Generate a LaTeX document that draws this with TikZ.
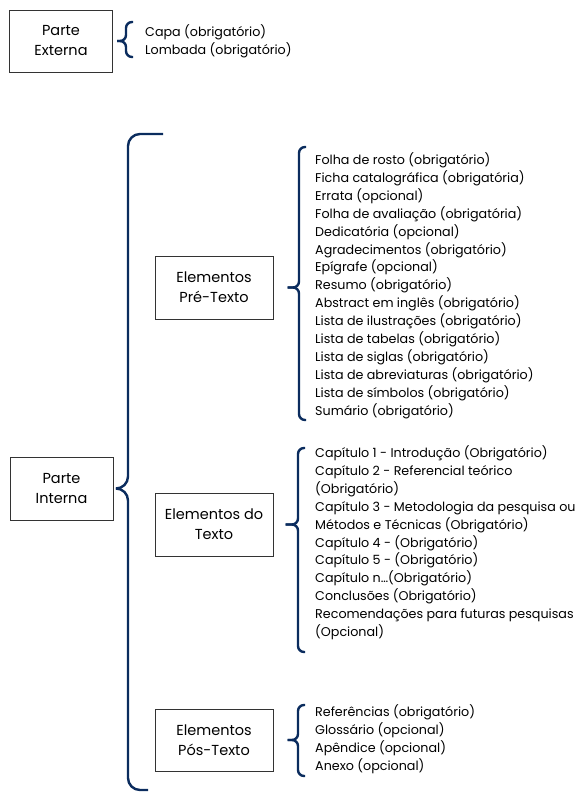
\documentclass[tikz,border=0pt]{standalone}
\usepackage{fontspec}
\setmainfont{Poppins}
\usetikzlibrary{calc}
\definecolor{azul}{HTML}{0B2C5E}

\begin{document}
\begin{tikzpicture}[x=1pt, y=-1pt,
      caixa/.style = {draw=black!80, line width=1pt, align=center,
        minimum width=118pt, minimum height=63pt,
        font=\fontsize{14.5}{20}\selectfont},
      lista/.style = {anchor=north west, align=left, inner sep=0pt,
        font=\fontsize{12.7}{17.9}\selectfont},
      chave/.style = {draw=azul, line width=2.4pt, rounded corners=#1},
      chave/.default = 6pt]
  \useasboundingbox (0,0) rectangle (576,793);

  % caixas
  \node[caixa, minimum width=103pt, minimum height=62pt] (ext) at (61,41) {Parte\\Externa};
  \node[caixa, minimum width=103pt] (int) at (61.5,488.5) {Parte\\Interna};
  \node[caixa] (pre) at (214,287.5) {Elementos\\Pré-Texto};
  \node[caixa] (txt) at (214,524.5) {Elementos do\\Texto};
  \node[caixa, minimum height=62pt] (pos) at (214,740) {Elementos\\Pós-Texto};

  % listas
  \node[lista] (ext-l) at (145,24.5) {Capa (obrigatório)\\Lombada (obrigatório)};
  \node[lista] (pre-l) at (315,152.5) {Folha de rosto (obrigatório)\\
    Ficha catalográfica (obrigatória)\\Errata (opcional)\\
    Folha de avaliação (obrigatória)\\Dedicatória (opcional)\\
    Agradecimentos (obrigatório)\\Epígrafe (opcional)\\Resumo (obrigatório)\\
    Abstract em inglês (obrigatório)\\Lista de ilustrações (obrigatório)\\
    Lista de tabelas (obrigatório)\\Lista de siglas (obrigatório)\\
    Lista de abreviaturas (obrigatório)\\Lista de símbolos (obrigatório)\\
    Sumário (obrigatório)};
  \node[lista] (txt-l) at (315,445.5) {Capítulo 1 - Introdução (Obrigatório)\\
    Capítulo 2 - Referencial teórico\\(Obrigatório)\\
    Capítulo 3 - Metodologia da pesquisa ou\\
    Métodos e Técnicas (Obrigatório)\\Capítulo 4 - (Obrigatório)\\
    Capítulo 5 - (Obrigatório)\\Capítulo n…(Obrigatório)\\
    Conclusões (Obrigatório)\\Recomendações para futuras pesquisas\\(Opcional)};
  \node[lista] (pos-l) at (315,704.5) {Referências (obrigatório)\\Glossário (opcional)\\
    Apêndice (opcional)\\Anexo (opcional)};

  % chaves
  \coordinate (ext-t) at (126,22);  \coordinate (ext-b) at (126,57);
  \coordinate (pre-t) at (299,147); \coordinate (pre-b) at (299,420);
  \coordinate (txt-t) at (298,448); \coordinate (txt-b) at (298,652);
  \coordinate (pos-t) at (298,705); \coordinate (pos-b) at (298,776);
  \foreach \c/\dx in {ext/4, pre/14, txt/12, pos/14} {
    \draw[chave] ([xshift=7pt]\c-t) -- (\c-t) -- (\c-t |- \c.east) -- ([xshift=\dx pt]\c.east);
    \draw[chave] ([xshift=\dx pt]\c.east) -- (\c-b |- \c.east) -- (\c-b) -- ([xshift=7pt]\c-b);
  }
  \coordinate (int-t) at (128,134); \coordinate (int-b) at (128,790);
  \draw[chave=12pt] ([xshift=35pt]int-t) -- (int-t) -- (int-t |- int.east) -- ([xshift=4pt]int.east);
  \draw[chave=12pt] ([xshift=4pt]int.east) -- (int-b |- int.east) -- (int-b) -- ([xshift=20pt]int-b);
\end{tikzpicture}
\end{document}
